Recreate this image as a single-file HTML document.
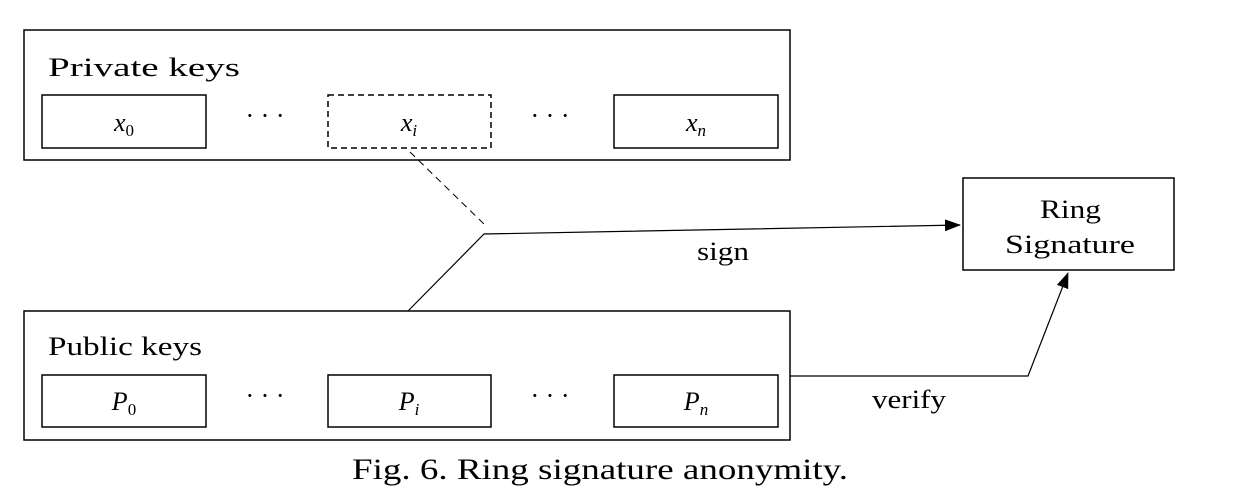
<!DOCTYPE html>
<html><head><meta charset="utf-8"><style>
html,body{margin:0;padding:0;background:#fff;}
svg{display:block;font-family:"Liberation Serif",serif;}
</style></head><body>
<svg width="1244" height="504" viewBox="0 0 1244 504">
<defs><marker id="ah" markerWidth="16" markerHeight="12" refX="15" refY="6" orient="auto" markerUnits="userSpaceOnUse"><path d="M0,0 L16,6 L0,12 z" fill="#000"/></marker></defs>
<g stroke="#000" stroke-width="1.5" fill="none">
<rect x="24" y="30" width="766" height="130"/>
<rect x="42" y="95" width="164" height="53"/>
<rect x="328" y="95" width="163" height="53" stroke-dasharray="6,4"/>
<rect x="614" y="95" width="164" height="53"/>
<rect x="24" y="311" width="766" height="129"/>
<rect x="42" y="375" width="164" height="52"/>
<rect x="328" y="375" width="163" height="52"/>
<rect x="614" y="375" width="164" height="52"/>
<rect x="963" y="178" width="211" height="92"/>
<line x1="410" y1="152" x2="485" y2="225" stroke-dasharray="7,5" stroke-width="1"/>
<polyline points="408,311 484,234 960,225" stroke-width="1.2" marker-end="url(#ah)"/>
<polyline points="790,376 1028,376 1068,273" stroke-width="1.2" marker-end="url(#ah)"/>
</g>
<g fill="#000" font-size="26">
<text x="48" y="76" textLength="192" lengthAdjust="spacingAndGlyphs">Private keys</text>
<text x="48" y="355" textLength="154" lengthAdjust="spacingAndGlyphs">Public keys</text>
<text x="124" y="131" text-anchor="middle" font-style="italic">x<tspan font-size="17" font-style="normal" dy="5">0</tspan></text>
<text x="409" y="131" text-anchor="middle" font-style="italic">x<tspan font-size="17" dy="5">i</tspan></text>
<text x="696" y="131" text-anchor="middle" font-style="italic">x<tspan font-size="17" dy="5">n</tspan></text>
<text x="124" y="410" text-anchor="middle" font-style="italic">P<tspan font-size="17" font-style="normal" dy="5">0</tspan></text>
<text x="409" y="410" text-anchor="middle" font-style="italic">P<tspan font-size="17" dy="5">i</tspan></text>
<text x="696" y="410" text-anchor="middle" font-style="italic">P<tspan font-size="17" dy="5">n</tspan></text>
<text x="265" y="124" text-anchor="middle">· · ·</text>
<text x="550" y="124" text-anchor="middle">· · ·</text>
<text x="265" y="404" text-anchor="middle">· · ·</text>
<text x="550" y="404" text-anchor="middle">· · ·</text>
<text x="1040" y="218" textLength="61" lengthAdjust="spacingAndGlyphs">Ring</text>
<text x="1005" y="253" textLength="130" lengthAdjust="spacingAndGlyphs">Signature</text>
<text x="697" y="260" textLength="52" lengthAdjust="spacingAndGlyphs">sign</text>
<text x="872" y="408" textLength="74" lengthAdjust="spacingAndGlyphs">verify</text>
<text x="352" y="479" font-size="30" textLength="496" lengthAdjust="spacingAndGlyphs">Fig. 6.  Ring signature anonymity.</text>
</g>
</svg>
</body></html>
